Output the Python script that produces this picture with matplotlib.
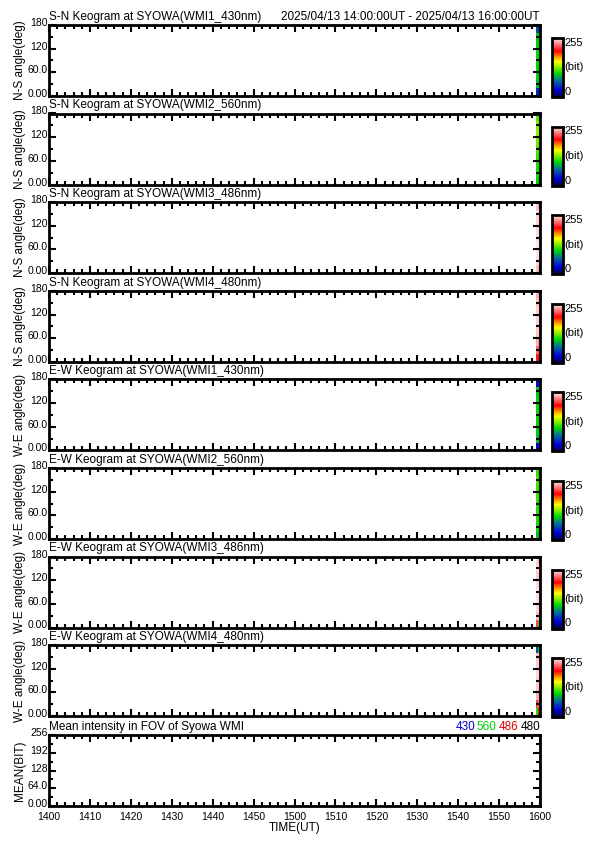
import numpy as np
import matplotlib
matplotlib.use('Agg')
from matplotlib import pyplot as plt
from matplotlib.colors import LinearSegmentedColormap
from matplotlib.transforms import ScaledTranslation

# keogram titles and y labels
titles = ['S-N Keogram at SYOWA(WMI1_430nm)', 'S-N Keogram at SYOWA(WMI2_560nm)',
          'S-N Keogram at SYOWA(WMI3_486nm)', 'S-N Keogram at SYOWA(WMI4_480nm)',
          'E-W Keogram at SYOWA(WMI1_430nm)', 'E-W Keogram at SYOWA(WMI2_560nm)',
          'E-W Keogram at SYOWA(WMI3_486nm)', 'E-W Keogram at SYOWA(WMI4_480nm)']
ylabels = ['N-S angle(deg)'] * 4 + ['W-E angle(deg)'] * 4

# time in minutes after 14:00 UT, data only in the last minute
time_edges = [119.1, 119.55, 120.0]
angle_edges = [0, 20, 40, 60, 80, 100, 120, 140, 160, 180]

# intensity (bit) per angle bin (bottom->top), one list per time column
sn430 = [[45, 95, 100, 102, 104, 103, 100, 98, 60], [40, 92, 98, 100, 102, 100, 98, 95, 55]]
sn560 = [[100, 105, 108, 112, 118, 125, 130, 128, 120], [98, 103, 106, 110, 115, 122, 128, 125, 118]]
sn486 = [[245, 250, 252, 253, 252, 250, 248, 250, 245], [240, 248, 250, 252, 250, 248, 246, 248, 240]]
sn480 = [[205, 225, 240, 246, 248, 250, 248, 245, 240], [200, 220, 238, 245, 248, 248, 246, 244, 238]]
ew430 = [[30, 95, 100, 102, 104, 103, 100, 98, 35], [28, 92, 98, 100, 102, 100, 98, 95, 32]]
ew560 = [[95, 105, 108, 110, 112, 114, 116, 118, 112], [92, 103, 106, 108, 110, 112, 114, 116, 110]]
ew486 = [[215, 245, 250, 252, 252, 250, 248, 250, 248], [110, 240, 248, 250, 250, 248, 246, 248, 246]]
ew480 = [[110, 215, 240, 246, 248, 250, 248, 245, 60], [200, 225, 238, 245, 248, 248, 246, 244, 100]]
keograms = [sn430, sn560, sn486, sn480, ew430, ew560, ew486, ew480]

# mean intensity panel (no data in this interval)
mean_labels = ['430', '560', '486', '480']
mean_colors = ['#0000c8', '#00d000', '#e00000', 'black']

xticks = [0, 10, 20, 30, 40, 50, 60, 70, 80, 90, 100, 110, 120]
xticklabels = ['1400', '1410', '1420', '1430', '1440', '1450', '1500',
               '1510', '1520', '1530', '1540', '1550', '1600']

cmap = LinearSegmentedColormap.from_list('idl', [
    (0.0, (0.0, 0.0, 0.25)), (0.12, (0.0, 0.0, 0.85)), (0.28, (0.0, 0.45, 0.6)),
    (0.4, (0.0, 0.85, 0.0)), (0.52, (0.6, 0.95, 0.0)), (0.6, (1.0, 1.0, 0.0)),
    (0.68, (1.0, 0.6, 0.0)), (0.78, (1.0, 0.0, 0.0)), (1.0, (1.0, 0.93, 0.93))])

W, H = 595, 842
fig = plt.figure(figsize=(W / 100, H / 100), dpi=100)
plt.rcParams['font.family'] = ['Liberation Sans', 'DejaVu Sans']

tops = [25, 113.5, 202, 291, 379.5, 468, 556.5, 645, 735]
x0, x1, ph = 49, 540, 71


def style_axes(ax):
    for s in ax.spines.values():
        s.set_linewidth(2)
    ax.tick_params(which='both', direction='in', top=True, right=True,
                   labelsize=7.5, width=1.5)
    ax.tick_params(axis='y', pad=1)
    ax.tick_params(axis='x', pad=4)
    ax.tick_params(which='major', length=5)
    ax.tick_params(which='minor', length=3)
    ax.set_xlim(0, 120)
    ax.set_xticks(xticks)
    ax.set_xticks(np.arange(0, 121, 2), minor=True)


def lift_ylabels(ax):
    off = ScaledTranslation(0, 3 / 100, fig.dpi_scale_trans)
    for lab in ax.get_yticklabels():
        lab.set_transform(lab.get_transform() + off)


for i, data in enumerate(keograms):
    top = tops[i]
    ax = fig.add_axes([x0 / W, 1 - (top + ph) / H, (x1 - x0) / W, ph / H])
    z = np.array(data).T
    mesh = ax.pcolormesh(time_edges, angle_edges, z, cmap=cmap, vmin=0, vmax=255)
    style_axes(ax)
    ax.set_xticklabels([])
    ax.set_ylim(0, 180)
    ax.set_yticks([0, 60, 120, 180])
    ax.set_yticklabels(['0.00', '60.0', '120', '180'])
    ax.set_yticks([30, 90, 150], minor=True)
    lift_ylabels(ax)
    ax.set_ylabel(ylabels[i], fontsize=8.5, labelpad=1)
    ax.text(0, 1.03, titles[i], transform=ax.transAxes, fontsize=8.5, va='bottom', ha='left')
    if i == 0:
        ax.text(1, 1.03, '2025/04/13 14:00:00UT - 2025/04/13 16:00:00UT',
                transform=ax.transAxes, fontsize=8.5, va='bottom', ha='right')
    cax = fig.add_axes([552 / W, 1 - (top + ph + 1) / H, 11 / W, (ph - 12) / H])
    cb = fig.colorbar(mesh, cax=cax)
    cb.outline.set_linewidth(2)
    cb.set_ticks([])
    cax.text(1.15, 1.0, '255', transform=cax.transAxes, fontsize=8, va='top')
    cax.text(1.15, 0.5, '(bit)', transform=cax.transAxes, fontsize=8, va='center')
    cax.text(1.15, 0.0, '0', transform=cax.transAxes, fontsize=8, va='bottom')

# mean intensity panel
top = tops[8]
ax = fig.add_axes([x0 / W, 1 - (top + ph) / H, (x1 - x0) / W, ph / H])
style_axes(ax)
ax.set_xticklabels(xticklabels)
ax.set_ylim(0, 256)
ax.set_yticks([0, 64, 128, 192, 256])
ax.set_yticklabels(['0.00', '64.0', '128', '192', '256'])
ax.set_yticks([32, 96, 160, 224], minor=True)
lift_ylabels(ax)
ax.set_ylabel('MEAN(BIT)', fontsize=8.5, labelpad=1)
ax.set_xlabel('TIME(UT)', fontsize=8.5, labelpad=0)
ax.text(0, 1.03, 'Mean intensity in FOV of Syowa WMI', transform=ax.transAxes,
        fontsize=8.5, va='bottom', ha='left')
xpos = 1.0
for lab, col in reversed(list(zip(mean_labels, mean_colors))):
    ax.text(xpos, 1.03, lab, transform=ax.transAxes, fontsize=8.5,
            va='bottom', ha='right', color=col)
    xpos -= 0.044

fig.savefig('out.png', dpi=100)
